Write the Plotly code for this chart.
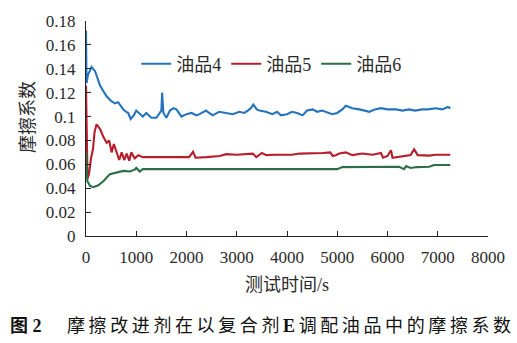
import plotly.graph_objects as go

# ---- data ----
t4 = [0, 10, 40, 110, 180, 280, 350, 410, 500, 575, 640, 700, 740, 800, 840, 890, 950,
      1000, 1070, 1130, 1200, 1250, 1300, 1400, 1470, 1500, 1515, 1540, 1600, 1670, 1740,
      1800, 1900, 2000, 2100, 2200, 2260, 2390, 2450, 2520, 2650, 2780, 2920, 3050, 3150,
      3220, 3280, 3330, 3400, 3450, 3580, 3710, 3800, 3880, 4000, 4100, 4200, 4310, 4400,
      4510, 4600, 4700, 4770, 4900, 5000, 5100, 5170, 5300, 5440, 5550, 5640, 5750, 5870,
      6000, 6170, 6300, 6430, 6550, 6690, 6800, 6960, 7090, 7150, 7200, 7250]
v4 = [0.172, 0.128, 0.135, 0.1415, 0.138, 0.126, 0.121, 0.117, 0.113, 0.111, 0.112, 0.108,
      0.106, 0.104, 0.103, 0.098, 0.101, 0.105, 0.102, 0.100, 0.103, 0.101, 0.099, 0.099,
      0.103, 0.105, 0.120, 0.103, 0.099, 0.105, 0.107, 0.106, 0.100, 0.102, 0.103, 0.101,
      0.102, 0.105, 0.103, 0.101, 0.104, 0.103, 0.102, 0.104, 0.103, 0.105, 0.107, 0.110,
      0.106, 0.105, 0.104, 0.102, 0.104, 0.101, 0.102, 0.104, 0.103, 0.101, 0.105, 0.106,
      0.104, 0.105, 0.104, 0.102, 0.103, 0.106, 0.109, 0.107, 0.106, 0.105, 0.104, 0.106,
      0.107, 0.106, 0.106, 0.105, 0.106, 0.105, 0.106, 0.106, 0.107, 0.106, 0.107, 0.108,
      0.107]

t5 = [0, 15, 30, 60, 100, 140, 170, 210, 250, 280, 345, 410, 460, 510, 555, 610, 660, 710,
      760, 810, 860, 900, 970, 1040, 1130, 1300, 1530, 1800, 2050, 2130, 2180, 2400, 2660,
      2790, 3000, 3320, 3390, 3500, 3590, 3750, 3920, 4100, 4250, 4510, 4710, 4860, 4910,
      4970, 5040, 5170, 5300, 5500, 5700, 5870, 5910, 6000, 6070, 6100, 6230, 6360, 6460,
      6530, 6600, 6830, 6960, 7250]
v5 = [0.126, 0.100, 0.048, 0.052, 0.065, 0.073, 0.087, 0.0935, 0.091, 0.0895, 0.083, 0.078,
      0.080, 0.070, 0.077, 0.069, 0.0636, 0.070, 0.0636, 0.069, 0.063, 0.070, 0.065, 0.0677,
      0.066, 0.066, 0.066, 0.066, 0.066, 0.0704, 0.0655, 0.066, 0.067, 0.0685, 0.068, 0.069,
      0.066, 0.0695, 0.0677, 0.068, 0.068, 0.068, 0.069, 0.069, 0.0695, 0.070, 0.067, 0.0677,
      0.069, 0.070, 0.0677, 0.069, 0.068, 0.0695, 0.0655, 0.067, 0.0718, 0.0655, 0.0665,
      0.0673, 0.0677, 0.0726, 0.0677, 0.0673, 0.068, 0.068]

t6 = [0, 15, 27, 80, 145, 245, 345, 475, 610, 740, 875, 970, 1000, 1070, 1130, 1200, 3000,
      5000, 5100, 6230, 6330, 6370, 6460, 6590, 6830, 6930, 7250]
v6 = [0.0704, 0.055, 0.0458, 0.042, 0.0409, 0.0425, 0.0458, 0.0518, 0.053, 0.0545, 0.054,
      0.0555, 0.057, 0.054, 0.056, 0.056, 0.056, 0.056, 0.0577, 0.058, 0.056, 0.0585, 0.057,
      0.0577, 0.058, 0.0595, 0.0595]

series_names = ["油品4", "油品5", "油品6"]
series_colors = ["#2473bd", "#b51e2a", "#2d6e47"]

x_ticks = [0, 1000, 2000, 3000, 4000, 5000, 6000, 7000, 8000]
y_ticks = [0, 0.02, 0.04, 0.06, 0.08, 0.1, 0.12, 0.14, 0.16, 0.18]
y_ticktext = ["0", "0.02", "0.04", "0.06", "0.08", "0.1", "0.12", "0.14", "0.16", "0.18"]

FONT = "Times New Roman, Liberation Serif, DejaVu Serif, Noto Sans CJK SC"
TXT = "#2a2a2a"

fig = go.Figure()
for tx, vy, nm, col in zip([t4, t5, t6], [v4, v5, v6], series_names, series_colors):
    fig.add_trace(go.Scatter(x=tx, y=vy, mode="lines", name=nm,
                             line=dict(color=col, width=2.1)))

axis_common = dict(showline=True, linecolor="#222", linewidth=1.3, ticks="inside",
                   ticklen=5, tickwidth=1.3, tickcolor="#222", showgrid=False,
                   zeroline=False, tickfont=dict(family=FONT, size=17, color=TXT))

fig.update_xaxes(range=[0, 8000], tickvals=x_ticks, ticklabelstandoff=5,
                 title=dict(text="测试时间/s", font=dict(family=FONT, size=18, color=TXT),
                            standoff=12),
                 **axis_common)
fig.update_yaxes(range=[0, 0.18], tickvals=y_ticks, ticktext=y_ticktext,
                 ticklabelstandoff=6, **axis_common)

fig.add_annotation(text="摩擦系数", textangle=-90, xref="paper", yref="paper",
                   x=-0.146, y=0.555, xanchor="center", yanchor="middle", showarrow=False,
                   font=dict(family=FONT, size=18, color=TXT))

sp = "\u2009"
cap_left = "<b>图" + "\u2005" + "2</b>"
cap_body = sp.join("摩擦改进剂在以复合剂") + sp + "<b>E</b>" + sp + sp.join("调配油品中的摩擦系数")
fig.add_annotation(text=cap_left, xref="paper", yref="paper",
                   x=-0.194, y=-0.42, xanchor="left", yanchor="middle", showarrow=False,
                   font=dict(family=FONT, size=18, color="#111"))
fig.add_annotation(text=cap_body, xref="paper", yref="paper",
                   x=-0.052, y=-0.42, xanchor="left", yanchor="middle", showarrow=False,
                   font=dict(family=FONT, size=18, color="#111"))

fig.update_layout(
    width=517, height=343,
    margin=dict(l=86, r=28, t=16, b=107),
    paper_bgcolor="white", plot_bgcolor="white",
    showlegend=True,
    legend=dict(orientation="h", x=0.125, y=0.8, xanchor="left", yanchor="middle",
                font=dict(family=FONT, size=18, color=TXT), bgcolor="rgba(0,0,0,0)",
                itemwidth=30, tracegroupgap=0),
)

fig.write_html("out.html")
